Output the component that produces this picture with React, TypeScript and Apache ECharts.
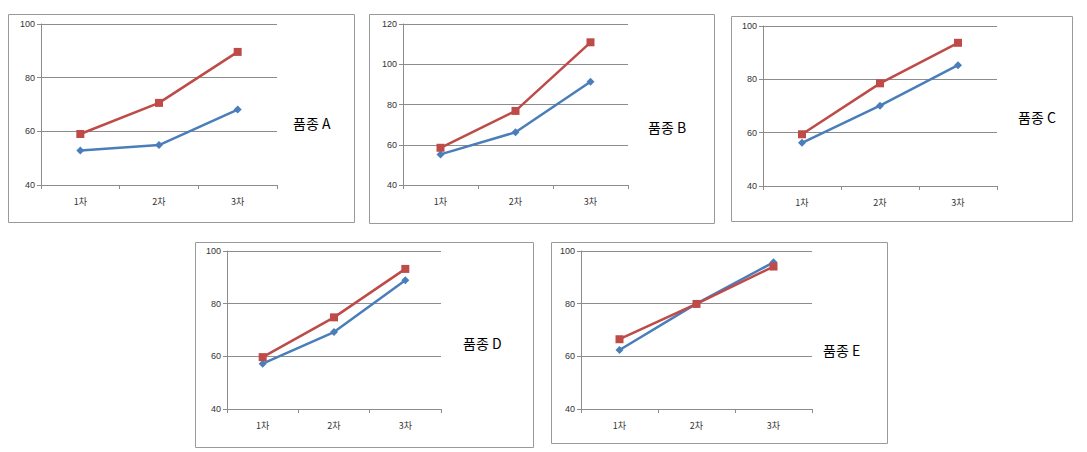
import React, { useEffect, useRef } from "react";
import * as echarts from "echarts";

const categories = ["1차", "2차", "3차"];
const panelNames = ["품종 A", "품종 B", "품종 C", "품종 D", "품종 E"];
const redA = [59.0, 70.6, 89.6];
const blueA = [52.9, 54.9, 68.1];
const redB = [58.5, 76.8, 110.9];
const blueB = [55.2, 66.2, 91.3];
const redC = [59.4, 78.5, 93.7];
const blueC = [56.2, 70.1, 85.3];
const redD = [59.7, 74.8, 93.2];
const blueD = [57.2, 69.2, 88.9];
const redE = [66.5, 79.9, 94.1];
const blueE = [62.4, 80.0, 95.7];
const yMax = [100, 120, 100, 100, 100];
const yMin = [40, 40, 40, 40, 40];

const RED = "#BE4B48";
const BLUE = "#4A7EBB";
const GRID = "#8C8C8C";

const grids = [
  { left: 41, top: 24, width: 236, height: 161 },
  { left: 403, top: 24, width: 225, height: 161 },
  { left: 763, top: 26, width: 234, height: 160 },
  { left: 227, top: 251, width: 214, height: 158 },
  { left: 581, top: 251, width: 231, height: 158 },
];
const boxes = [
  { x: 8, y: 14, w: 346, h: 208 },
  { x: 369, y: 14, w: 345, h: 209 },
  { x: 731, y: 16, w: 341, h: 205 },
  { x: 195, y: 242, w: 338, h: 205 },
  { x: 551, y: 242, w: 336, h: 201 },
];
const titlePos = [
  { x: 293, y: 123 },
  { x: 648, y: 127 },
  { x: 1018, y: 117 },
  { x: 463, y: 343 },
  { x: 823, y: 350 },
];

export default function App() {
  const ref = useRef<HTMLDivElement>(null);
  useEffect(() => {
    if (!ref.current) return;
    const chart = echarts.init(ref.current, undefined, { renderer: "svg" });
    const reds = [redA, redB, redC, redD, redE];
    const blues = [blueA, blueB, blueC, blueD, blueE];
    const xAxis = grids.map((_, i) => ({
      type: "category",
      gridIndex: i,
      data: categories,
      boundaryGap: true,
      axisLine: { lineStyle: { color: GRID, width: 1 } },
      axisTick: { show: true, length: 4, lineStyle: { color: GRID } },
      axisLabel: { color: "#333", fontSize: 9, margin: 12, fontFamily: "Noto Sans CJK KR" },
    }));
    const yAxis = grids.map((_, i) => ({
      type: "value",
      gridIndex: i,
      min: yMin[i],
      max: yMax[i],
      interval: 20,
      axisLine: { show: true, lineStyle: { color: GRID, width: 1 } },
      axisTick: { show: true, length: 4, lineStyle: { color: GRID } },
      axisLabel: { color: "#333", fontSize: 9, margin: 6, fontFamily: "Arial, Liberation Sans" },
      splitLine: { show: true, lineStyle: { color: GRID, width: 1 } },
    }));
    const series: any[] = [];
    for (let i = 0; i < 5; i++) {
      series.push({
        type: "line",
        xAxisIndex: i,
        yAxisIndex: i,
        data: blues[i],
        symbol: "diamond",
        symbolSize: 8,
        lineStyle: { color: BLUE, width: 2.5 },
        itemStyle: { color: BLUE },
        z: 2,
      });
      series.push({
        type: "line",
        xAxisIndex: i,
        yAxisIndex: i,
        data: reds[i],
        symbol: "rect",
        symbolSize: 8,
        lineStyle: { color: RED, width: 2.5 },
        itemStyle: { color: RED },
        z: 3,
      });
    }
    const graphic: any[] = [];
    boxes.forEach((b) => {
      graphic.push({
        type: "rect",
        shape: { x: b.x + 0.5, y: b.y + 0.5, width: b.w, height: b.h },
        style: { fill: "none", stroke: "#9A9A9A", lineWidth: 1 },
        z: -1,
      });
    });
    titlePos.forEach((p, i) => {
      graphic.push({
        type: "text",
        x: p.x,
        y: p.y,
        style: {
          text: panelNames[i],
          fill: "#000",
          font: "14px 'Noto Sans CJK KR'",
          verticalAlign: "middle",
          textAlign: "left",
        },
      });
    });
    chart.setOption({
      animation: false,
      backgroundColor: "#fff",
      grid: grids.map((g) => ({ ...g, containLabel: false })),
      xAxis,
      yAxis,
      series,
      graphic,
    });
    return () => chart.dispose();
  }, []);
  return (
    <div
      ref={ref}
      style={{ position: "fixed", left: 0, top: 0, width: 1087, height: 452 }}
    />
  );
}
